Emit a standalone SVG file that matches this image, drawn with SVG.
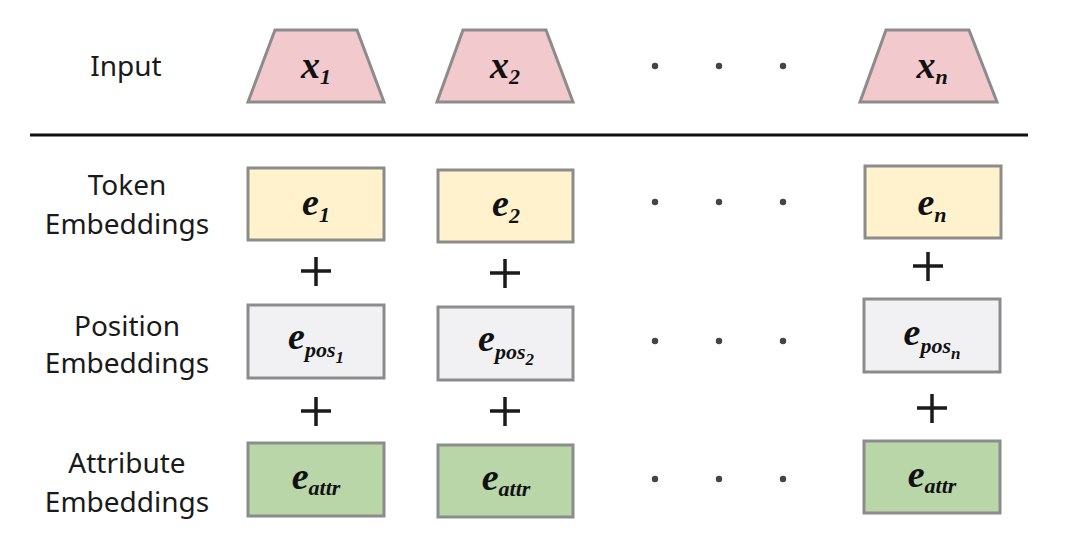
<svg xmlns="http://www.w3.org/2000/svg" width="1080" height="546" viewBox="0 0 1080 546">
<style>
.lbl{font-family:"Noto Sans","Liberation Sans",sans-serif;font-size:28px;fill:#1a1a1a;text-anchor:middle}
.m{font-family:"Liberation Serif","Times New Roman",serif;font-weight:bold;font-style:italic;font-size:38px;fill:#111;text-anchor:middle}
.s{font-size:22px}
.trap{fill:#f2c9cc;stroke:#8c8c8c;stroke-width:3;stroke-linejoin:miter}
.box{stroke:#8c8c8c;stroke-width:3}
.tok{fill:#fff2cc}
.pos{fill:#f1f1f3}
.att{fill:#b8d6a8}
.plus{stroke:#1a1a1a;stroke-width:3.5;fill:none}
.dot{fill:#444}
</style>
<rect width="1080" height="546" fill="#fff"/>
<g id="labels">
<text class="lbl" x="126" y="76">Input</text>
<text class="lbl" x="127" y="195">Token</text>
<text class="lbl" x="127" y="234">Embeddings</text>
<text class="lbl" x="127" y="336">Position</text>
<text class="lbl" x="127" y="373">Embeddings</text>
<text class="lbl" x="127" y="473">Attribute</text>
<text class="lbl" x="127" y="512">Embeddings</text>
</g>
<line x1="30" y1="135" x2="1028" y2="135" stroke="#111" stroke-width="3"/>
<g id="input1"><polygon class="trap" points="275,30 357,30 384,102 248,102"/><text class="m" x="316" y="78">x<tspan class="s" dy="6">1</tspan></text></g>
<g id="input2"><polygon class="trap" points="463,30 546,30 573,102 437,102"/><text class="m" x="505" y="78">x<tspan class="s" dy="6">2</tspan></text></g>
<g id="inputn"><polygon class="trap" points="886,30 969,30 997,102 860,102"/><text class="m" x="932" y="78">x<tspan class="s" dy="6">n</tspan></text></g>
<g id="tok1"><rect class="box tok" x="248" y="168" width="136" height="72"/><text class="m" x="316" y="215">e<tspan class="s" dy="7">1</tspan></text></g>
<g id="tok2"><rect class="box tok" x="438" y="170" width="135" height="72"/><text class="m" x="506" y="216">e<tspan class="s" dy="7">2</tspan></text></g>
<g id="tokn"><rect class="box tok" x="865" y="166" width="136" height="72"/><text class="m" x="932" y="215">e<tspan class="s" dy="7">n</tspan></text></g>
<g id="pos1"><rect class="box pos" x="248" y="305" width="136" height="73"/><text class="m" x="316" y="349">e<tspan class="s" dy="8">pos</tspan><tspan font-size="17" dy="6">1</tspan></text></g>
<g id="pos2"><rect class="box pos" x="438" y="307" width="135" height="73"/><text class="m" x="506" y="351">e<tspan class="s" dy="8">pos</tspan><tspan font-size="17" dy="6">2</tspan></text></g>
<g id="posn"><rect class="box pos" x="864" y="299" width="136" height="73"/><text class="m" x="932" y="345">e<tspan class="s" dy="8">pos</tspan><tspan font-size="17" dy="6">n</tspan></text></g>
<g id="att1"><rect class="box att" x="248" y="443" width="136" height="73"/><text class="m" x="316" y="489">e<tspan class="s" dy="6">attr</tspan></text></g>
<g id="att2"><rect class="box att" x="438" y="445" width="135" height="72"/><text class="m" x="506" y="490">e<tspan class="s" dy="6">attr</tspan></text></g>
<g id="attn"><rect class="box att" x="864" y="441" width="136" height="72"/><text class="m" x="932" y="487">e<tspan class="s" dy="6">attr</tspan></text></g>
<g id="connectors">
<path class="plus" d="M301 271h30M316 257v29"/>
<path class="plus" d="M490 273h30M505 259v29"/>
<path class="plus" d="M913 266h30M928 252v29"/>
<path class="plus" d="M301 411h30M316 397v29"/>
<path class="plus" d="M490 411h30M505 397v29"/>
<path class="plus" d="M917 408h30M932 394v29"/>
</g>
<g id="dots">
<circle class="dot" cx="655" cy="66" r="3.2"/><circle class="dot" cx="719" cy="66" r="3.2"/><circle class="dot" cx="783" cy="66" r="3.2"/>
<circle class="dot" cx="655" cy="202" r="3.2"/><circle class="dot" cx="719" cy="202" r="3.2"/><circle class="dot" cx="783" cy="202" r="3.2"/>
<circle class="dot" cx="655" cy="341" r="3.2"/><circle class="dot" cx="719" cy="341" r="3.2"/><circle class="dot" cx="783" cy="341" r="3.2"/>
<circle class="dot" cx="655" cy="479" r="3.2"/><circle class="dot" cx="719" cy="479" r="3.2"/><circle class="dot" cx="783" cy="479" r="3.2"/>
</g>
</svg>
